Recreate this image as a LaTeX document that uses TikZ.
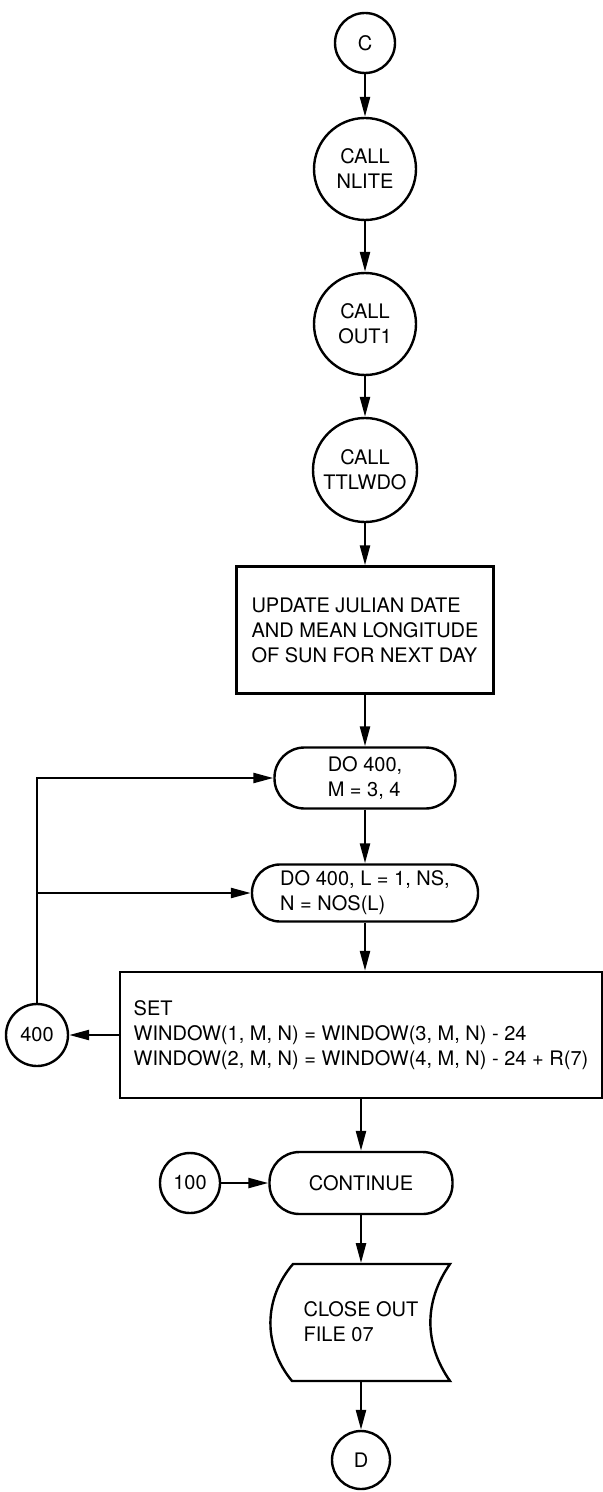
\documentclass[tikz,border=0pt]{standalone}
\usepackage{fontspec}
\setmainfont{TeX Gyre Heros}
\usetikzlibrary{arrows.meta,calc}

\begin{document}
\begin{tikzpicture}[x=0.5pt,y=-0.5pt,
    font=\fontsize{10}{12.5}\selectfont,
    flow/.style={line width=1.2pt,-{Triangle[length=10pt,width=5pt]}},
    callc/.style={draw,circle,line width=1.2pt,minimum size=51pt,inner sep=1pt,align=center},
    conc/.style={draw,circle,line width=1.2pt,minimum size=30pt,inner sep=1pt},
    proc/.style={draw,rectangle,line width=1.2pt,align=left},
    doloop/.style={draw,rectangle,line width=1.2pt,align=left,inner sep=1pt}]
          \useasboundingbox (0,0) rectangle (603,1492);

          % calls
          \node[conc] (c) at (365,43) {C};
          \node[callc] (nlite) at (365,169) {CALL\\NLITE};
          \node[callc] (out1) at (365,324) {CALL\\OUT1};
          \node[callc,minimum size=52pt] (ttl) at (365,470) {CALL\\TTLWDO};
          \node[proc,minimum width=128.5pt,minimum height=63.5pt] (upd) at (365,630)
               {UPDATE JULIAN DATE\\AND MEAN LONGITUDE\\OF SUN FOR NEXT DAY};

          % do loops
          \node[doloop,rounded corners=15pt,minimum width=90.5pt,minimum height=30.5pt] (dom) at (365,778) {DO 400,\\M = 3, 4};
          \node[doloop,rounded corners=14pt,minimum width=113pt,minimum height=28.5pt] (dol) at (365,893) {DO 400, L = 1, NS,\\N = NOS(L)};
          \node[proc,minimum width=241pt,minimum height=63pt,inner xsep=2pt] (set) at (361,1035)
               {SET\\WINDOW(1, M, N) = WINDOW(3, M, N) - 24\\WINDOW(2, M, N) = WINDOW(4, M, N) - 24 + R(7)};
          \node[conc,minimum size=31pt] (c400) at (37,1035) {400};

          % end
          \node[doloop,rounded corners=15pt,minimum width=91.5pt,minimum height=31pt] (cont) at (361,1183) {CONTINUE};
          \node[conc] (c100) at (190,1183) {100};
          \node[align=left,minimum width=89pt,minimum height=58.5pt] (close) at (361,1322) {CLOSE OUT\\FILE 07};
          \draw[line width=1.2pt] (293,1264) -- (450,1264) to[bend right=35] (450,1381)
               -- (292,1381) to[bend left=40] cycle;
          \node[conc,minimum size=29pt] (d) at (361,1460) {D};

          % arrows
          \draw[flow] (c) -- (nlite);
          \draw[flow] (nlite) -- (out1);
          \draw[flow] (out1) -- (ttl);
          \draw[flow] (ttl) -- (upd);
          \draw[flow] (upd) -- (dom);
          \draw[flow] (dom) -- (dol);
          \draw[flow] (dol.south) -- (dol.south |- set.north);
          \draw[flow] (set) -- (c400);
          \draw[flow] (c400.north) |- (dom.west);
          \draw[flow] (c400.north |- dol.west) -- (dol.west);
          \draw[flow] (set) -- (cont);
          \draw[flow] (c100) -- (cont);
          \draw[flow] (cont) -- (close);
          \draw[flow] (close) -- (d);
        \end{tikzpicture}
\end{document}
